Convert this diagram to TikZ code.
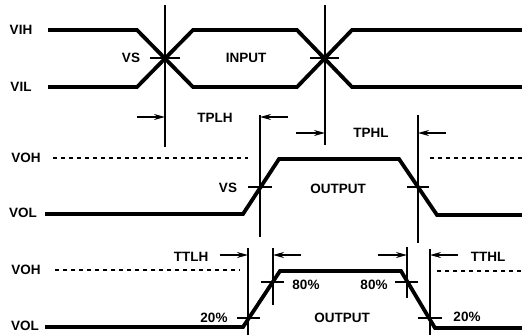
\documentclass[tikz,border=0pt]{standalone}
\usepackage{fontspec}
\setmainfont{Liberation Sans}
\usetikzlibrary{arrows.meta}
\begin{document}
\begin{tikzpicture}[x=1pt,y=-1pt,
  wave/.style={line width=3.8pt,line join=miter,line cap=butt},
  thinline/.style={line width=1.4pt},
  dashline/.style={line width=1.2pt,dash pattern=on 4pt off 4pt},
  tarrow/.style={line width=1.4pt,-{Stealth[length=11pt,width=6pt]}},
  lbl/.style={inner sep=0pt,font=\fontsize{13.5}{15}\selectfont\bfseries}]
\useasboundingbox (0,0) rectangle (522,335);
% ---------- INPUT ----------
\node[lbl] (vih) at (21,30) {VIH};
\node[lbl] (vil) at (21,87) {VIL};
\draw[wave] (48,30) -- (137,30) -- (193,87) -- (297,87) -- (352,30) -- (522,30);
\draw[wave] (48,87) -- (137,87) -- (193,30) -- (297,30) -- (352,87) -- (522,87);
\coordinate (c1) at (165,58);
\coordinate (c2) at (325,58);
\draw[thinline] (165,5) -- (165,147);
\draw[thinline] (325,5) -- (325,145);
\draw[thinline] (150,58) -- (180,58);
\draw[thinline] (310,58) -- (339,58);
\node[lbl] (vs1) at (131,58) {VS};
\node[lbl] (input) at (246,58) {INPUT};
% ---------- OUTPUT 1 ----------
\node[lbl] (voh1) at (26,158) {VOH};
\node[lbl] (vol1) at (23,213) {VOL};
\draw[dashline] (53,158) -- (248,158);
\draw[dashline] (430,158) -- (522,158);
\draw[wave] (45,214) -- (243,214) -- (279,159) -- (399,159) -- (437,215) -- (522,215);
\draw[thinline] (260,115) -- (260,237);
\draw[thinline] (418,115) -- (418,243);
\draw[thinline] (248,187) -- (272,187);
\draw[thinline] (407,187) -- (429,187);
\coordinate (tplhA) at (165,117);
\coordinate (tplhB) at (260,117);
\draw[tarrow] (137,117) -- (tplhA);
\draw[tarrow] (288,117) -- (tplhB);
\coordinate (tphlA) at (325,133);
\coordinate (tphlB) at (418,133);
\draw[tarrow] (296,133) -- (tphlA);
\draw[tarrow] (446,133) -- (tphlB);
\node[lbl] (tplh) at (215,118) {TPLH};
\node[lbl] (tphl) at (371,133) {TPHL};
\node[lbl] (vs2) at (228,188) {VS};
\node[lbl] (out1) at (338,189) {OUTPUT};
% ---------- OUTPUT 2 ----------
\node[lbl] (voh2) at (26,270) {VOH};
\node[lbl] (vol2) at (25,326) {VOL};
\draw[dashline] (55,270) -- (240,270);
\draw[dashline] (437,271) -- (522,271);
\draw[wave] (45,327) -- (243,327) -- (280,271) -- (401,271) -- (435,328) -- (522,328);
\draw[thinline] (248,248) -- (248,335);
\draw[thinline] (273,248) -- (273,305);
\draw[thinline] (407,247) -- (407,298);
\draw[thinline] (430,249) -- (430,335);
\draw[thinline] (237,318) -- (260,318);
\draw[thinline] (261,282) -- (284,282);
\draw[thinline] (395,282) -- (418,282);
\draw[thinline] (418,318) -- (442,318);
\coordinate (ttlhA) at (248,255);
\coordinate (ttlhB) at (273,255);
\coordinate (tthlA) at (407,255);
\coordinate (tthlB) at (430,255);
\draw[tarrow] (220,255) -- (ttlhA);
\draw[tarrow] (301,255) -- (ttlhB);
\draw[tarrow] (378,255) -- (tthlA);
\draw[tarrow] (458,255) -- (tthlB);
\node[lbl] (ttlh) at (191,257) {TTLH};
\node[lbl] (tthl) at (488,257) {TTHL};
\node[lbl] (p80a) at (306,285) {80\%};
\node[lbl] (p80b) at (374,285) {80\%};
\node[lbl] (p20a) at (214,318) {20\%};
\node[lbl] (p20b) at (467,317) {20\%};
\node[lbl] (out2) at (342,318) {OUTPUT};
\end{tikzpicture}
\end{document}
